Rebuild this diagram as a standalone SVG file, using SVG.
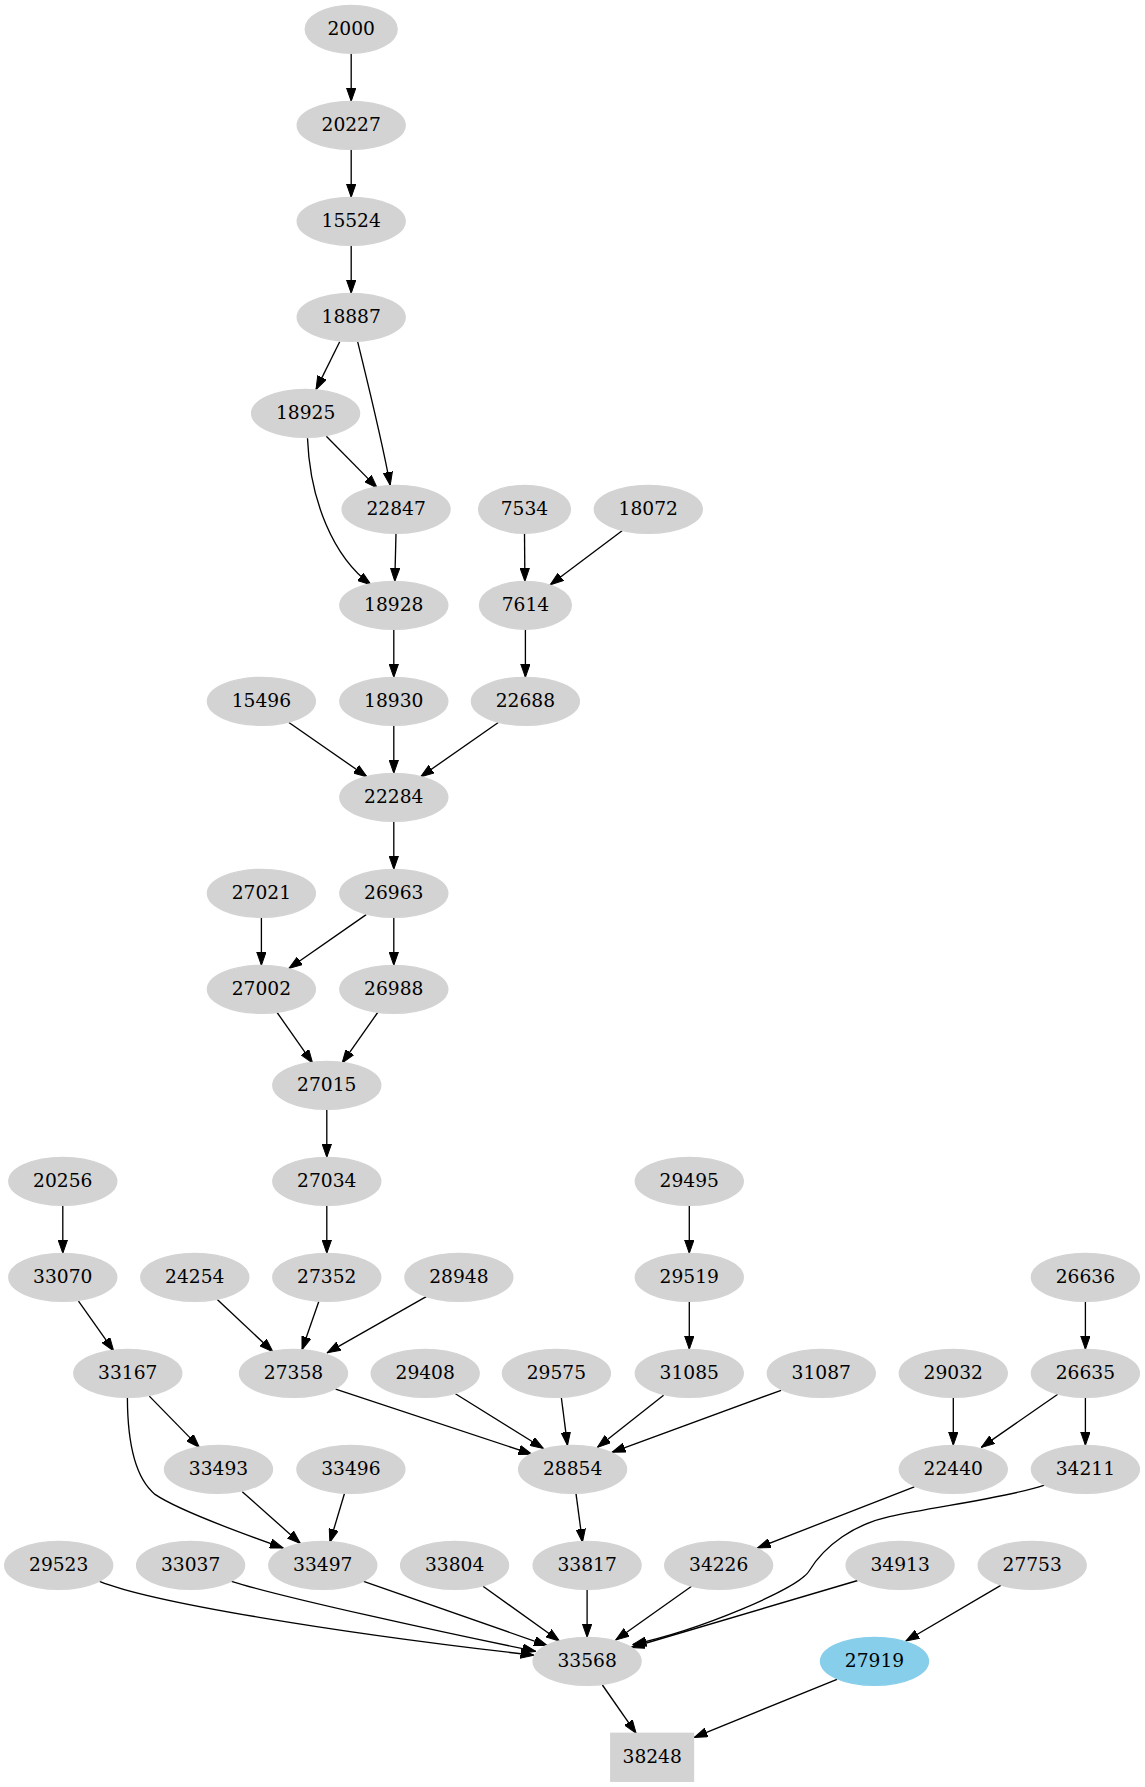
<svg xmlns="http://www.w3.org/2000/svg" width="1145" height="1787" viewBox="0 0 1145 1787">
<style>
.n ellipse, .n rect { fill: #d3d3d3; stroke: #d3d3d3; stroke-width: 1.33; }
.n text { font-family: "DejaVu Serif", "Liberation Serif", serif; font-size: 18.67px; text-anchor: middle; fill: #000; }
#edges path { fill: none; stroke: #000; stroke-width: 1.33; marker-end: url(#arr); }
</style>
<defs>
<marker id="arr" markerUnits="userSpaceOnUse" markerWidth="14" markerHeight="10" refX="13.33" refY="5" orient="auto">
<path d="M0,0.33 L13.33,5 L0,9.67 Z" fill="#000" stroke="#000" stroke-width="1"/>
</marker>
</defs>
<rect width="1145" height="1787" fill="#fff"/>
<g id="edges">
<path d="M351.2,53.3 L351.2,101.3"/>
<path d="M351.2,149.3 L351.2,197.3"/>
<path d="M351.2,245.3 L351.2,293.3"/>
<path d="M339.7,341.8 L316,389.6"/>
<path d="M357.7,341.8 C367,380 382,440 390.2,485.3"/>
<path d="M326.3,436.3 L377.2,487.9"/>
<path d="M307.5,438.2 C310,500 333,557 371.1,584.8"/>
<path d="M396,533.3 L394.8,581.3"/>
<path d="M524.5,533.3 L524.9,581.3"/>
<path d="M622.1,530.8 L550.2,584.8"/>
<path d="M393.8,629.3 L393.8,677.3"/>
<path d="M525.4,629.3 L525.4,677.3"/>
<path d="M288.9,722.5 L367,776.8"/>
<path d="M393.8,725.3 L393.8,773.3"/>
<path d="M498.3,722.5 L420.6,776.8"/>
<path d="M393.8,821.3 L393.8,869.3"/>
<path d="M261.4,917.3 L261.4,965.3"/>
<path d="M366.2,914.6 L288.9,968.5"/>
<path d="M393.8,917.3 L393.8,965.3"/>
<path d="M277.1,1012.5 L312.6,1063.1"/>
<path d="M377.7,1012.5 L342.1,1063.1"/>
<path d="M326.8,1109.3 L326.8,1157.3"/>
<path d="M326.8,1205.3 L326.8,1253.3"/>
<path d="M62.8,1205.3 L62.8,1253.3"/>
<path d="M78.5,1301.2 L113.7,1350.9"/>
<path d="M217,1299.3 L272.9,1351.7"/>
<path d="M318.8,1301.5 L302,1349.8"/>
<path d="M427.1,1296.2 L327.2,1352.8"/>
<path d="M689.3,1205.3 L689.3,1253.3"/>
<path d="M689.3,1301.3 L689.3,1349.3"/>
<path d="M1085.4,1301.3 L1085.4,1349.3"/>
<path d="M149.3,1396.1 L199.4,1447.4"/>
<path d="M127.4,1397.6 C127.5,1440 135,1478 155,1494.4 C175,1508 235,1531 283.2,1548"/>
<path d="M335.6,1389.2 L532,1454.2"/>
<path d="M455.4,1393.8 L543.4,1448.5"/>
<path d="M561.4,1398 L567.5,1445.4"/>
<path d="M663.6,1395.3 L597.4,1447.4"/>
<path d="M781.1,1390.3 L612,1452.3"/>
<path d="M953.3,1397.3 L953.3,1445.3"/>
<path d="M1057.8,1394.2 L981.3,1447.4"/>
<path d="M1085.4,1397.3 L1085.4,1445.3"/>
<path d="M242.3,1491.8 L300.4,1543.4"/>
<path d="M344.4,1493.7 L329.9,1542.3"/>
<path d="M576,1493.7 L582.5,1542.3"/>
<path d="M914.3,1486.8 L757.4,1548"/>
<path d="M1044.4,1485.2 C1010,1497 940,1506 889.4,1516.6 C855,1524 825,1545 809.1,1571 C798,1589 700,1630 633,1644.4"/>
<path d="M99.5,1581.3 C150,1602 330,1632 533.9,1655.2"/>
<path d="M231.5,1581.3 C280,1597 450,1634 535.8,1651.3"/>
<path d="M363.6,1581.3 L547.3,1645.6"/>
<path d="M483,1586.3 L559.5,1641"/>
<path d="M587.1,1589.3 L587.1,1637.3"/>
<path d="M691.6,1586.3 L615.8,1640"/>
<path d="M857.7,1580.5 L631.1,1647.5"/>
<path d="M1001.2,1585.1 L905.9,1641"/>
<path d="M602.4,1685 L636.1,1733.3"/>
<path d="M837,1679.3 L694.3,1737.4"/>
</g>
<g id="n2000" class="n"><ellipse cx="351.2" cy="29.3" rx="46" ry="24"/><text x="351.2" y="35.3">2000</text></g>
<g id="n20227" class="n"><ellipse cx="351.2" cy="125.3" rx="54" ry="24"/><text x="351.2" y="131.3">20227</text></g>
<g id="n15524" class="n"><ellipse cx="351.2" cy="221.3" rx="54" ry="24"/><text x="351.2" y="227.3">15524</text></g>
<g id="n18887" class="n"><ellipse cx="351.2" cy="317.3" rx="54" ry="24"/><text x="351.2" y="323.3">18887</text></g>
<g id="n18925" class="n"><ellipse cx="305.6" cy="413.3" rx="54" ry="24"/><text x="305.6" y="419.3">18925</text></g>
<g id="n22847" class="n"><ellipse cx="396.1" cy="509.3" rx="54" ry="24"/><text x="396.1" y="515.3">22847</text></g>
<g id="n7534" class="n"><ellipse cx="524.5" cy="509.3" rx="46" ry="24"/><text x="524.5" y="515.3">7534</text></g>
<g id="n18072" class="n"><ellipse cx="648.3" cy="509.3" rx="54" ry="24"/><text x="648.3" y="515.3">18072</text></g>
<g id="n18928" class="n"><ellipse cx="393.8" cy="605.3" rx="54" ry="24"/><text x="393.8" y="611.3">18928</text></g>
<g id="n7614" class="n"><ellipse cx="525.4" cy="605.3" rx="46" ry="24"/><text x="525.4" y="611.3">7614</text></g>
<g id="n15496" class="n"><ellipse cx="261.4" cy="701.3" rx="54" ry="24"/><text x="261.4" y="707.3">15496</text></g>
<g id="n18930" class="n"><ellipse cx="393.8" cy="701.3" rx="54" ry="24"/><text x="393.8" y="707.3">18930</text></g>
<g id="n22688" class="n"><ellipse cx="525.4" cy="701.3" rx="54" ry="24"/><text x="525.4" y="707.3">22688</text></g>
<g id="n22284" class="n"><ellipse cx="393.8" cy="797.3" rx="54" ry="24"/><text x="393.8" y="803.3">22284</text></g>
<g id="n27021" class="n"><ellipse cx="261.4" cy="893.3" rx="54" ry="24"/><text x="261.4" y="899.3">27021</text></g>
<g id="n26963" class="n"><ellipse cx="393.8" cy="893.3" rx="54" ry="24"/><text x="393.8" y="899.3">26963</text></g>
<g id="n27002" class="n"><ellipse cx="261.4" cy="989.3" rx="54" ry="24"/><text x="261.4" y="995.3">27002</text></g>
<g id="n26988" class="n"><ellipse cx="393.8" cy="989.3" rx="54" ry="24"/><text x="393.8" y="995.3">26988</text></g>
<g id="n27015" class="n"><ellipse cx="326.8" cy="1085.3" rx="54" ry="24"/><text x="326.8" y="1091.3">27015</text></g>
<g id="n20256" class="n"><ellipse cx="62.8" cy="1181.3" rx="54" ry="24"/><text x="62.8" y="1187.3">20256</text></g>
<g id="n27034" class="n"><ellipse cx="326.8" cy="1181.3" rx="54" ry="24"/><text x="326.8" y="1187.3">27034</text></g>
<g id="n29495" class="n"><ellipse cx="689.3" cy="1181.3" rx="54" ry="24"/><text x="689.3" y="1187.3">29495</text></g>
<g id="n33070" class="n"><ellipse cx="62.8" cy="1277.3" rx="54" ry="24"/><text x="62.8" y="1283.3">33070</text></g>
<g id="n24254" class="n"><ellipse cx="194.8" cy="1277.3" rx="54" ry="24"/><text x="194.8" y="1283.3">24254</text></g>
<g id="n27352" class="n"><ellipse cx="326.8" cy="1277.3" rx="54" ry="24"/><text x="326.8" y="1283.3">27352</text></g>
<g id="n28948" class="n"><ellipse cx="458.9" cy="1277.3" rx="54" ry="24"/><text x="458.9" y="1283.3">28948</text></g>
<g id="n29519" class="n"><ellipse cx="689.3" cy="1277.3" rx="54" ry="24"/><text x="689.3" y="1283.3">29519</text></g>
<g id="n26636" class="n"><ellipse cx="1085.4" cy="1277.3" rx="54" ry="24"/><text x="1085.4" y="1283.3">26636</text></g>
<g id="n33167" class="n"><ellipse cx="127.8" cy="1373.3" rx="54" ry="24"/><text x="127.8" y="1379.3">33167</text></g>
<g id="n27358" class="n"><ellipse cx="293.5" cy="1373.3" rx="54" ry="24"/><text x="293.5" y="1379.3">27358</text></g>
<g id="n29408" class="n"><ellipse cx="425.2" cy="1373.3" rx="54" ry="24"/><text x="425.2" y="1379.3">29408</text></g>
<g id="n29575" class="n"><ellipse cx="556.4" cy="1373.3" rx="54" ry="24"/><text x="556.4" y="1379.3">29575</text></g>
<g id="n31085" class="n"><ellipse cx="689.3" cy="1373.3" rx="54" ry="24"/><text x="689.3" y="1379.3">31085</text></g>
<g id="n31087" class="n"><ellipse cx="821.3" cy="1373.3" rx="54" ry="24"/><text x="821.3" y="1379.3">31087</text></g>
<g id="n29032" class="n"><ellipse cx="953.3" cy="1373.3" rx="54" ry="24"/><text x="953.3" y="1379.3">29032</text></g>
<g id="n26635" class="n"><ellipse cx="1085.4" cy="1373.3" rx="54" ry="24"/><text x="1085.4" y="1379.3">26635</text></g>
<g id="n33493" class="n"><ellipse cx="218.5" cy="1469.3" rx="54" ry="24"/><text x="218.5" y="1475.3">33493</text></g>
<g id="n33496" class="n"><ellipse cx="350.9" cy="1469.3" rx="54" ry="24"/><text x="350.9" y="1475.3">33496</text></g>
<g id="n28854" class="n"><ellipse cx="572.6" cy="1469.3" rx="54" ry="24"/><text x="572.6" y="1475.3">28854</text></g>
<g id="n22440" class="n"><ellipse cx="953.3" cy="1469.3" rx="54" ry="24"/><text x="953.3" y="1475.3">22440</text></g>
<g id="n34211" class="n"><ellipse cx="1085.4" cy="1469.3" rx="54" ry="24"/><text x="1085.4" y="1475.3">34211</text></g>
<g id="n29523" class="n"><ellipse cx="58.7" cy="1565.3" rx="54" ry="24"/><text x="58.7" y="1571.3">29523</text></g>
<g id="n33037" class="n"><ellipse cx="190.6" cy="1565.3" rx="54" ry="24"/><text x="190.6" y="1571.3">33037</text></g>
<g id="n33497" class="n"><ellipse cx="322.8" cy="1565.3" rx="54" ry="24"/><text x="322.8" y="1571.3">33497</text></g>
<g id="n33804" class="n"><ellipse cx="454.6" cy="1565.3" rx="54" ry="24"/><text x="454.6" y="1571.3">33804</text></g>
<g id="n33817" class="n"><ellipse cx="587.1" cy="1565.3" rx="54" ry="24"/><text x="587.1" y="1571.3">33817</text></g>
<g id="n34226" class="n"><ellipse cx="718.7" cy="1565.3" rx="54" ry="24"/><text x="718.7" y="1571.3">34226</text></g>
<g id="n34913" class="n"><ellipse cx="900.1" cy="1565.3" rx="54" ry="24"/><text x="900.1" y="1571.3">34913</text></g>
<g id="n27753" class="n"><ellipse cx="1032.2" cy="1565.3" rx="54" ry="24"/><text x="1032.2" y="1571.3">27753</text></g>
<g id="n33568" class="n"><ellipse cx="587.1" cy="1661.3" rx="54" ry="24"/><text x="587.1" y="1667.3">33568</text></g>
<g id="n27919" class="n"><ellipse cx="874.5" cy="1661.3" rx="54" ry="24" style="fill:#87ceeb;stroke:#87ceeb"/><text x="874.5" y="1667.3">27919</text></g>
<g id="n38248" class="n"><rect x="610.8" y="1733.3" width="82.7" height="48"/><text x="652.2" y="1763.3">38248</text></g>
</svg>
